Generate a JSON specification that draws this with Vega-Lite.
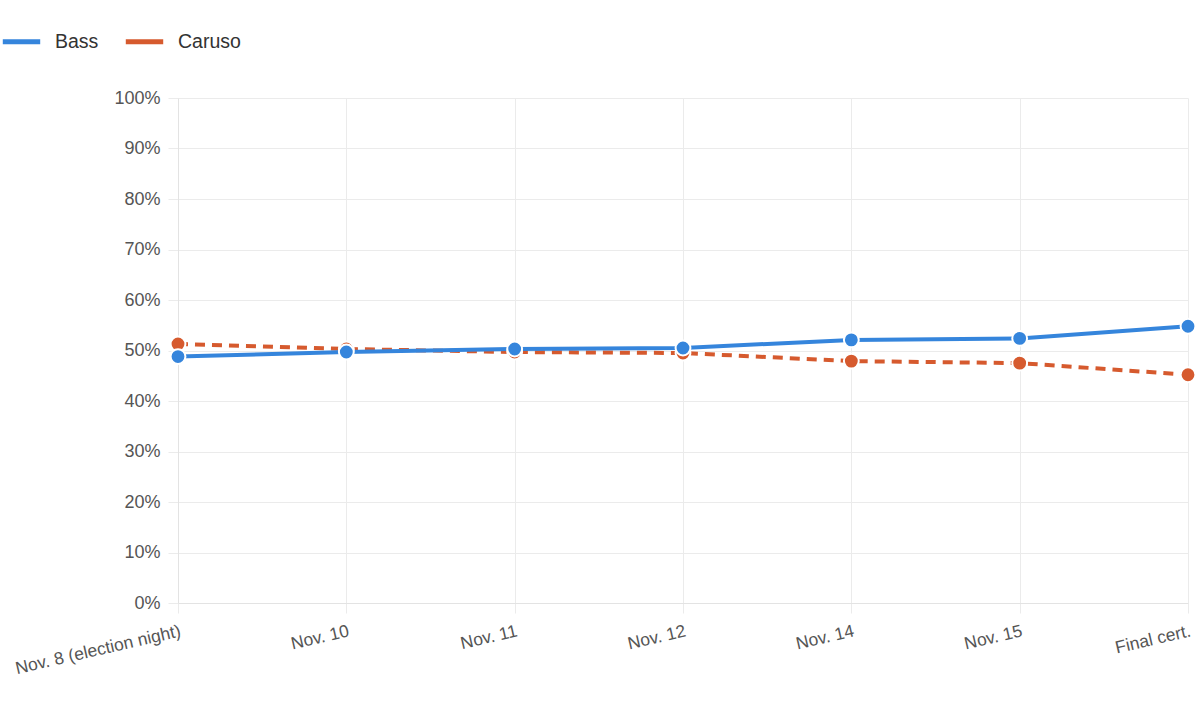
{
  "$schema": "https://vega.github.io/schema/vega-lite/v6.json",
  "autosize": "none",
  "width": 1010,
  "height": 505,
  "padding": {"left": 178, "top": 98, "right": 12, "bottom": 105},
  "background": "white",
  "config": {
    "font": "Liberation Sans",
    "view": {"stroke": null},
    "axis": {
      "gridColor": "#ebebeb",
      "domainColor": "#e3e3e3",
      "tickColor": "#ebebeb",
      "tickSize": 10,
      "labelColor": "#555555",
      "labelFont": "Liberation Sans"
    }
  },
  "data": {
    "values": [
      {"date": "Nov. 8 (election night)", "candidate": "Caruso", "share": 51.3},
      {"date": "Nov. 10", "candidate": "Caruso", "share": 50.3},
      {"date": "Nov. 11", "candidate": "Caruso", "share": 49.7},
      {"date": "Nov. 12", "candidate": "Caruso", "share": 49.5},
      {"date": "Nov. 14", "candidate": "Caruso", "share": 47.9},
      {"date": "Nov. 15", "candidate": "Caruso", "share": 47.5},
      {"date": "Final cert.", "candidate": "Caruso", "share": 45.2},
      {"date": "Nov. 8 (election night)", "candidate": "Bass", "share": 48.8},
      {"date": "Nov. 10", "candidate": "Bass", "share": 49.7},
      {"date": "Nov. 11", "candidate": "Bass", "share": 50.3},
      {"date": "Nov. 12", "candidate": "Bass", "share": 50.5},
      {"date": "Nov. 14", "candidate": "Bass", "share": 52.1},
      {"date": "Nov. 15", "candidate": "Bass", "share": 52.4},
      {"date": "Final cert.", "candidate": "Bass", "share": 54.8}
    ]
  },
  "encoding": {
    "x": {
      "field": "date",
      "type": "ordinal",
      "sort": null,
      "title": null,
      "scale": {"type": "point", "padding": 0},
      "axis": {
        "labelAngle": -13,
        "labelAlign": "right",
        "labelBaseline": "top",
        "labelFontSize": 17.5,
        "labelPadding": 9,
        "grid": true,
        "domain": true
      }
    },
    "y": {
      "field": "share",
      "type": "quantitative",
      "title": null,
      "scale": {"domain": [0, 100]},
      "axis": {
        "values": [0, 10, 20, 30, 40, 50, 60, 70, 80, 90, 100],
        "labelExpr": "datum.value + '%'",
        "labelFontSize": 18,
        "labelPadding": 8,
        "grid": true,
        "domain": true
      }
    },
    "color": {
      "field": "candidate",
      "type": "nominal",
      "scale": {"domain": ["Bass", "Caruso"], "range": ["#3585dc", "#d65a2e"]},
      "legend": {
        "title": null,
        "orient": "none",
        "legendX": -178,
        "legendY": -78,
        "direction": "horizontal",
        "symbolType": "stroke",
        "symbolSize": 1400,
        "symbolStrokeWidth": 5,
        "labelFontSize": 19.5,
        "labelColor": "#333333",
        "labelOffset": 12,
        "columnPadding": 16,
        "symbolOffset": 0
      }
    }
  },
  "layer": [
    {
      "transform": [{"filter": "datum.candidate === 'Caruso'"}],
      "mark": {"type": "line", "strokeWidth": 4, "strokeCap": "butt", "strokeDash": [10, 7]}
    },
    {
      "transform": [{"filter": "datum.candidate === 'Bass'"}],
      "mark": {"type": "line", "strokeWidth": 4, "strokeCap": "butt"}
    },
    {
      "mark": {"type": "point", "filled": true, "size": 220, "opacity": 1, "stroke": "white", "strokeWidth": 2}
    }
  ]
}
